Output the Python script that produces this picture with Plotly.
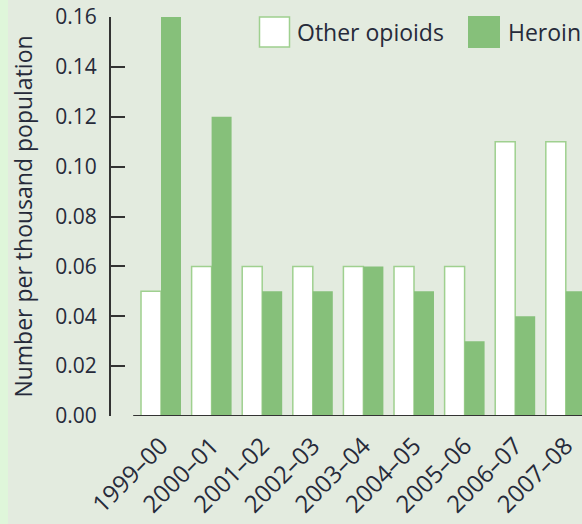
import plotly.graph_objects as go

categories = ["1999–00", "2000–01", "2001–02", "2002–03", "2003–04",
              "2004–05", "2005–06", "2006–07", "2007–08"]
other_opioids = [0.05, 0.06, 0.06, 0.06, 0.06, 0.06, 0.06, 0.11, 0.11]
heroin = [0.16, 0.12, 0.05, 0.05, 0.06, 0.05, 0.03, 0.04, 0.05]
y_ticks = [0.00, 0.02, 0.04, 0.06, 0.08, 0.10, 0.12, 0.14, 0.16]

GREEN = "#86c07a"
BG = "#e3ebdf"
TEXT = "#262a3a"
FONT = "Open Sans"

fig = go.Figure()
fig.add_trace(go.Bar(x=list(range(len(categories))), y=other_opioids, name="Other opioids",
                     marker=dict(color="white", line=dict(color="#9fd08f", width=1.5))))
fig.add_trace(go.Bar(x=list(range(len(categories))), y=heroin, name="Heroin",
                     marker=dict(color=GREEN, line=dict(width=0))))

L, W, T, H = 111, 471, 17, 399
def px(x):
    return (x - L) / W
def py(y):
    return 1 - (y - T) / H

shapes = [
    # left light strip
    dict(type="rect", xref="paper", yref="paper", x0=px(0), x1=px(8), y0=-2, y1=2,
         fillcolor="#dff6da", line=dict(width=0), layer="below"),
    # x axis line
    dict(type="line", xref="x", yref="y", x0=-0.55, x1=9, y0=0, y1=0,
         line=dict(color="#333333", width=2)),
    # legend boxes
    dict(type="rect", xref="paper", yref="paper", x0=px(259.5), x1=px(289.5), y0=py(47), y1=py(17),
         fillcolor="white", line=dict(color="#9fd08f", width=1.5)),
    dict(type="rect", xref="paper", yref="paper", x0=px(468), x1=px(500), y0=py(48), y1=py(16),
         fillcolor=GREEN, line=dict(width=0)),
]
annotations = [
    dict(text="Other opioids", xref="paper", yref="paper", x=px(295), y=py(32),
         xanchor="left", yanchor="middle", showarrow=False,
         font=dict(family=FONT, size=23, color=TEXT)),
    dict(text="Heroin", xref="paper", yref="paper", x=px(506), y=py(32),
         xanchor="left", yanchor="middle", showarrow=False,
         font=dict(family=FONT, size=23, color=TEXT)),
]

c0, step = 161, 50.6
fig.update_layout(
    width=582, height=524,
    margin=dict(l=L, r=0, t=T, b=524 - T - H),
    paper_bgcolor=BG, plot_bgcolor=BG,
    barmode="group", bargap=0.21, bargroupgap=0.0,
    showlegend=False,
    shapes=shapes, annotations=annotations,
    font=dict(family=FONT, color=TEXT),
    xaxis=dict(range=[(L - c0) / step, (L + W - c0) / step],
               tickmode="array", tickvals=list(range(len(categories))), ticktext=categories,
               tickangle=-45, ticks="", showgrid=False, zeroline=False, showline=False,
               ticklabelstandoff=10,
               tickfont=dict(family=FONT, size=24, color=TEXT)),
    yaxis=dict(range=[0, 0.16], tickmode="array", tickvals=y_ticks,
               ticktext=[f"{v:.2f}" for v in y_ticks],
               ticks="inside", ticklen=14, tickwidth=2, tickcolor="#333333",
               showline=True, linecolor="#333333", linewidth=2,
               showgrid=False, zeroline=False, ticklabelstandoff=8,
               tickfont=dict(family=FONT, size=21, color=TEXT),
               title=dict(text="Number per thousand population", standoff=16,
                          font=dict(family=FONT, size=23, color=TEXT))),
)

fig.write_html("out.html", config={"displayModeBar": False},
               post_script="document.body.style.margin='0';document.body.style.padding='0';")
